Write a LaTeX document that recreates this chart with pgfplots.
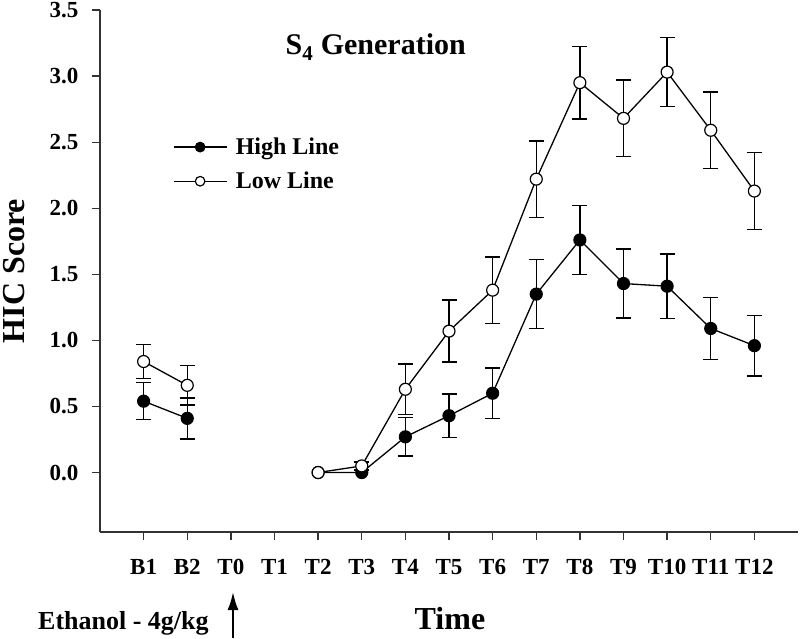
\documentclass[border=0pt]{standalone}
\usepackage{fontspec}
\setmainfont{Liberation Serif}
\usepackage{pgfplots}
\usepackage{pgfplotstable}
\usetikzlibrary{arrows.meta}
\pgfplotsset{compat=1.18}

\pgfplotstableread{
x y e
0 0.54 0.14
1 0.41 0.155
}\highA
\pgfplotstableread{
x y e
4 0.00 0.0
5 0.00 0.0
6 0.27 0.145
7 0.43 0.165
8 0.60 0.19
9 1.35 0.26
10 1.76 0.26
11 1.43 0.26
12 1.41 0.245
13 1.09 0.235
14 0.96 0.23
}\highB
\pgfplotstableread{
x y e
6 0.27 0.145
7 0.43 0.165
8 0.60 0.19
9 1.35 0.26
10 1.76 0.26
11 1.43 0.26
12 1.41 0.245
13 1.09 0.235
14 0.96 0.23
}\highErr
\pgfplotstableread{
x y e
0 0.84 0.13
1 0.66 0.15
}\lowA
\pgfplotstableread{
x y e
4 0.00 0.0
5 0.05 0.03
6 0.63 0.19
7 1.07 0.235
8 1.38 0.25
9 2.22 0.29
10 2.95 0.275
11 2.68 0.29
12 3.03 0.26
13 2.59 0.29
14 2.13 0.29
}\lowB
\pgfplotstableread{
x y e
5 0.05 0.03
6 0.63 0.19
7 1.07 0.235
8 1.38 0.25
9 2.22 0.29
10 2.95 0.275
11 2.68 0.29
12 3.03 0.26
13 2.59 0.29
14 2.13 0.29
}\lowErr

\begin{document}
\begin{tikzpicture}
\begin{axis}[
  name=ax,
  scale only axis,
  width=698pt, height=522pt,
  xmin=-1, xmax=15,
  ymin=-0.45, ymax=3.5,
  axis line style={line width=1.3pt, color=black!80},
  axis x line*=bottom, axis y line*=left,
  tick align=outside,
  major tick length=8pt,
  tick style={line width=1.3pt, color=black!80},
  xtick={0,1,...,14},
  xticklabels={B1,B2,T0,T1,T2,T3,T4,T5,T6,T7,T8,T9,T10,T11,T12},
  ytick={0,0.5,...,3.5},
  yticklabel style={xshift=-10pt, /pgf/number format/.cd, fixed, fixed zerofill, precision=1, assume math mode=true},
  xticklabel style={yshift=-16pt},
  ticklabel style={font=\fontsize{23}{27}\selectfont\bfseries},
  xlabel={Time},
  xlabel style={at={(axis description cs:0.5014,-0.1877)}, anchor=base, font=\fontsize{32}{36}\selectfont\bfseries},
  ylabel={HIC Score},
  ylabel style={at={(axis description cs:-0.1088,0.5)}, anchor=base, inner sep=0pt, font=\fontsize{32}{36}\selectfont\bfseries},
  legend style={at={(axis description cs:0.105,0.759)}, anchor=north west, draw=none, fill=none,
    font=\fontsize{24}{28}\selectfont\bfseries, row sep=12pt, column sep=6pt, inner sep=0pt},
  legend cell align=left,
  legend image code/.code={\draw[mark repeat=2,mark phase=2, mark size=4.8pt] plot coordinates {(0pt,0pt) (26pt,0pt) (53pt,0pt)};},
  clip=false,
]
% error bars
\addplot[forget plot, only marks, mark=none, black, error bars/.cd, y dir=both, y explicit,
  error bar style={line width=1.4pt}, error mark options={rotate=90, mark size=7.5pt, line width=1.4pt}]
  table[x=x, y=y, y error=e] {\highA};
\addplot[forget plot, only marks, mark=none, black, error bars/.cd, y dir=both, y explicit,
  error bar style={line width=1.4pt}, error mark options={rotate=90, mark size=7.5pt, line width=1.4pt}]
  table[x=x, y=y, y error=e] {\highErr};
\addplot[forget plot, only marks, mark=none, black, error bars/.cd, y dir=both, y explicit,
  error bar style={line width=1.4pt}, error mark options={rotate=90, mark size=7.5pt, line width=1.4pt}]
  table[x=x, y=y, y error=e] {\lowA};
\addplot[forget plot, only marks, mark=none, black, error bars/.cd, y dir=both, y explicit,
  error bar style={line width=1.4pt}, error mark options={rotate=90, mark size=7.5pt, line width=1.4pt}]
  table[x=x, y=y, y error=e] {\lowErr};
% lines
\addplot[forget plot, black, line width=1.3pt, mark=*, mark size=6pt, mark options={fill=black, line width=1.2pt}]
  table[x=x, y=y] {\highA};
\addplot[black, line width=1.3pt, mark=*, mark size=6pt, mark options={fill=black, line width=1.2pt}]
  table[x=x, y=y] {\highB};
\addlegendentry{High Line}
\addplot[forget plot, black, line width=1.3pt, mark=*, mark size=6pt, mark options={fill=white, line width=1.2pt}]
  table[x=x, y=y] {\lowA};
\addplot[black, line width=1.3pt, mark=*, mark size=6pt, mark options={fill=white, line width=1.2pt}]
  table[x=x, y=y] {\lowB};
\addlegendentry{Low Line}
\node[anchor=base, font=\fontsize{30}{34}\selectfont\bfseries] at (axis description cs:0.395,0.914) {S\textsubscript{4} Generation};
\end{axis}
\node[anchor=base west, inner sep=0pt, font=\fontsize{26}{30}\selectfont\bfseries] at ([xshift=-62pt,yshift=-97pt]ax.south west) {Ethanol - 4g/kg};
\draw[-{Latex[length=18pt,width=11pt]}, line width=2pt] ([xshift=133pt,yshift=-106pt]ax.south west) -- ([xshift=133pt,yshift=-60pt]ax.south west);
\pgfresetboundingbox
\path ([xshift=-100pt,yshift=-106pt]ax.south west) rectangle ([xshift=2pt,yshift=10pt]ax.north east);
\end{tikzpicture}
\end{document}
